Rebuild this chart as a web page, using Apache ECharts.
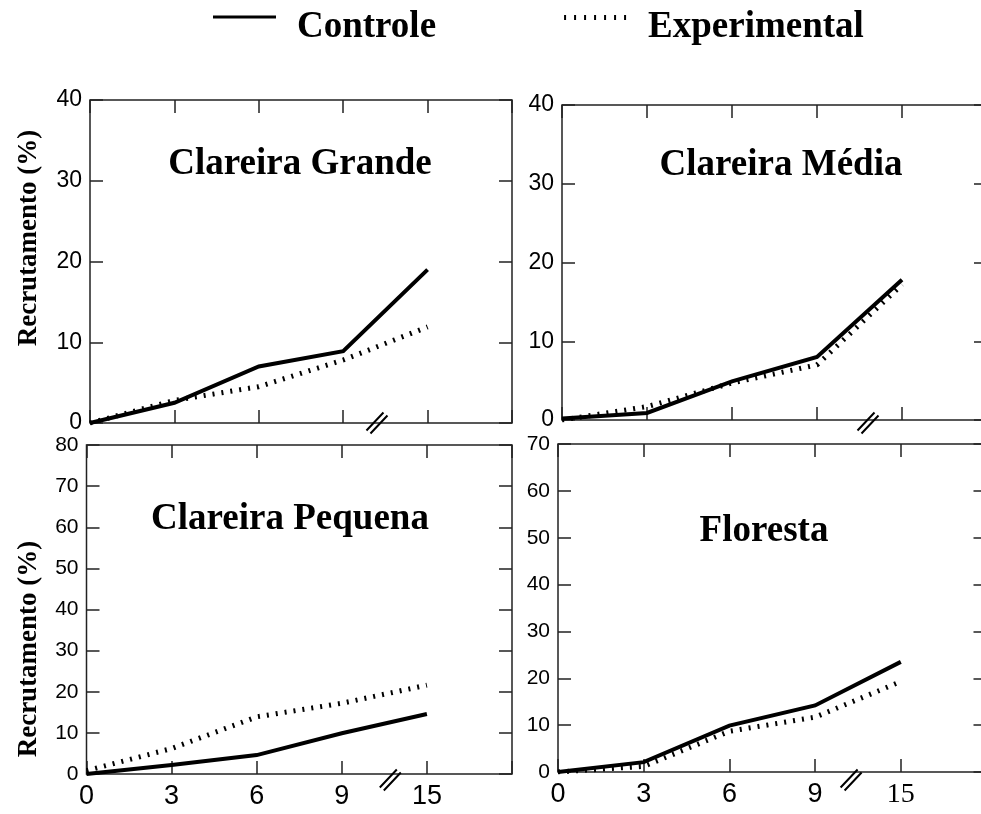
<!DOCTYPE html>
<html><head><meta charset="utf-8">
<script src="https://cdn.jsdelivr.net/npm/echarts@6/dist/echarts.min.js"></script>
<style>html,body{margin:0;padding:0;background:#fff}#c{width:981px;height:814px}</style>
</head><body><div id="c"></div>
<script>
// ---- data ----
const xLabels = ['0', '3', '6', '9', '15', ''];
const panelTitles = ['Clareira Grande', 'Clareira Média', 'Clareira Pequena', 'Floresta'];
const yMaxValues = [40, 40, 80, 70];
const yTickStep = 10;
const seriesNames = ['Controle', 'Experimental'];
const yAxisTitle = 'Recrutamento (%)';

const controleGrande = [0, 2.5, 7.0, 8.9, 19.0];
const experimentalGrande = [0, 2.8, 4.5, 7.8, 11.9];
const controleMedia = [0.2, 0.9, 4.9, 8.0, 17.8];
const experimentalMedia = [0, 1.7, 4.7, 7.0, 17.2];
const controlePequena = [0, 2.2, 4.6, 9.9, 14.6];
const experimentalPequena = [0.8, 6.2, 13.9, 17.2, 21.6];
const controleFloresta = [0, 2.1, 9.9, 14.2, 23.5];
const experimentalFloresta = [0, 1.2, 8.7, 11.7, 19.3];

const controleData = [controleGrande, controleMedia, controlePequena, controleFloresta];
const experimentalData = [experimentalGrande, experimentalMedia, experimentalPequena, experimentalFloresta];

// ---- layout / style ----
const grids = [
  {left: 90, top: 100, width: 422, height: 323},
  {left: 562, top: 105, width: 425, height: 315},
  {left: 86.5, top: 445, width: 425.5, height: 329},
  {left: 558, top: 444, width: 428.5, height: 328}
];
const yLabelSize = [23, 23, 21, 21];
const showXLabels = [false, false, true, true];
const serifLabelIdx = [[], [], [], [4]];
const breakPos = [3.4, 3.6, 3.57, 3.42];
const breakOffset = [0, 3, 6, 8];
const titlePos = [{x: 300, y: 146}, {x: 781, y: 147}, {x: 290, y: 501}, {x: 764, y: 513}];
const yTitleCenters = [238, 649];
const SANS = '"Liberation Sans", Arial, sans-serif';
const SERIF = '"Liberation Serif", "Times New Roman", serif';
const frameColor = '#222';
const tick = () => ({show: true, inside: true, length: 13, lineStyle: {color: frameColor, width: 1.5}});
const noLine = () => ({show: false, onZero: false});
const breakPath = 'path://M0,18 L17,0 M4,21 L21,3';

const ctrlIcon = 'path://M0,0 M79,26 M0,1 L63,1 L63,4 L0,4 Z';
let expIconStr = 'path://M0,0 M79,26';
[0, 10, 20, 30, 40, 50, 60].forEach(x => { expIconStr += ` M${x},0.5 L${x + 2},0.5 L${x + 2},5.5 L${x},5.5 Z`; });

const xAxes = [], yAxes = [], series = [], titles = [];
grids.forEach((g, k) => {
  xAxes.push({
    gridIndex: k, type: 'value', min: 0, max: xLabels.length - 1, interval: 1, position: 'bottom',
    axisLine: noLine(), axisTick: tick(), splitLine: {show: false},
    axisLabel: {
      show: showXLabels[k], margin: 9, fontSize: 27, fontFamily: SANS, color: '#000',
      formatter: v => {
        const i = Math.round(v); const s = xLabels[i] || '';
        return serifLabelIdx[k].includes(i) ? '{s|' + s + '}' : s;
      },
      rich: {s: {fontFamily: SERIF, fontSize: 28, color: '#000'}}
    }
  });
  xAxes.push({
    gridIndex: k, type: 'value', min: 0, max: xLabels.length - 1, interval: 1, position: 'top',
    axisLine: noLine(), axisTick: tick(), splitLine: {show: false}, axisLabel: {show: false}
  });
  yAxes.push({
    gridIndex: k, type: 'value', min: 0, max: yMaxValues[k], interval: yTickStep, position: 'left',
    axisLine: noLine(), axisTick: tick(), splitLine: {show: false},
    axisLabel: {fontSize: yLabelSize[k], margin: 8, color: '#000', fontFamily: SANS}
  });
  yAxes.push({
    gridIndex: k, type: 'value', min: 0, max: yMaxValues[k], interval: yTickStep, position: 'right',
    axisLine: noLine(), axisTick: tick(), splitLine: {show: false}, axisLabel: {show: false}
  });
  series.push({
    name: seriesNames[1], type: 'line', xAxisIndex: 2 * k, yAxisIndex: 2 * k, z: 2,
    data: experimentalData[k].map((v, i) => [i, v]), symbol: 'none', silent: true,
    itemStyle: {color: '#000'},
    lineStyle: {color: '#000', width: 5, type: [2, 7], cap: 'butt'}
  });
  series.push({
    name: seriesNames[0], type: 'line', xAxisIndex: 2 * k, yAxisIndex: 2 * k, z: 3,
    data: controleData[k].map((v, i) => [i, v]), symbol: 'none', silent: true,
    itemStyle: {color: '#000'},
    lineStyle: {color: '#000', width: 4, cap: 'butt', join: 'miter'},
    markPoint: {
      silent: true, symbol: breakPath, symbolSize: [21, 21], symbolOffset: [0, breakOffset[k]],
      label: {show: false},
      itemStyle: {color: 'none', borderColor: '#000', borderWidth: 2},
      data: [{coord: [breakPos[k], 0]}]
    }
  });
  titles.push({
    text: panelTitles[k], left: titlePos[k].x, top: titlePos[k].y, textAlign: 'center', padding: 0,
    textStyle: {fontFamily: SERIF, fontWeight: 'bold', fontSize: 37, color: '#000'}
  });
});

const chart = echarts.init(document.getElementById('c'), null, {renderer: 'canvas'});
chart.setOption({
  animation: false,
  backgroundColor: '#fff',
  title: titles,
  legend: {
    left: 213, top: 9, padding: 0, itemWidth: 79, itemHeight: 26, itemGap: 128,
    selectedMode: false,
    textStyle: {fontFamily: SERIF, fontWeight: 'bold', fontSize: 37, color: '#000'},
    itemStyle: {color: '#000', borderWidth: 0},
    data: [{name: seriesNames[0], icon: ctrlIcon}, {name: seriesNames[1], icon: expIconStr}]
  },
  grid: grids.map(g => Object.assign({
    show: true, borderColor: frameColor, borderWidth: 1.5, backgroundColor: 'transparent',
    containLabel: false, outerBoundsMode: 'none'
  }, g)),
  xAxis: xAxes,
  yAxis: yAxes,
  series: series,
  graphic: yTitleCenters.map(cy => ({
    type: 'text', x: 29, y: cy, rotation: Math.PI / 2,
    style: {text: yAxisTitle, font: 'bold 27px ' + SERIF, align: 'center', verticalAlign: 'middle', fill: '#000'}
  }))
});
</script></body></html>
